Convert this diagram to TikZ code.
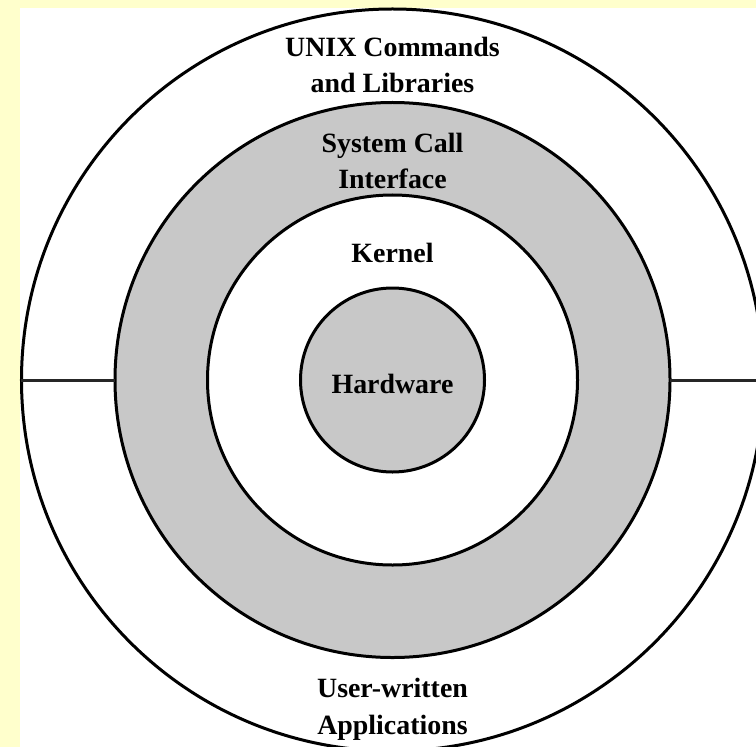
\documentclass[tikz,border=0pt]{standalone}
\usepackage{fontspec}
\setmainfont{Liberation Serif}
\definecolor{bgyellow}{HTML}{FFFFCC}
\definecolor{ringgray}{HTML}{C8C8C8}
\begin{document}
\begin{tikzpicture}[x=1bp,y=-1bp,
  ring/.style={circle,draw=black,line width=3bp,inner sep=0pt,outer sep=0pt},
  sep/.style={draw=black!85,line width=3bp},
  lbl/.style={font=\fontsize{28}{37}\selectfont\bfseries,align=center,inner sep=0pt}]
\useasboundingbox (0,0) rectangle (756,747);
\fill[bgyellow] (0,0) rectangle (756,747);
\fill[white] (20,8) rectangle (756,747);
\clip (0,0) rectangle (756,747);
\node[ring,fill=white,minimum size=742bp] (outer) at (392.5,380) {};
\node[ring,fill=ringgray,minimum size=555bp] (sci) at (392.5,380) {};
\node[ring,fill=white,minimum size=370bp] (kern) at (392.5,380) {};
\node[ring,fill=ringgray,minimum size=184bp] (hw) at (392.5,380) {};
\coordinate (rightend) at (760,380);
\draw[sep] (outer.west) -- (sci.west);
\draw[sep] (sci.east) -- (rightend);
\node[lbl] (unixlbl) at (392.5,65) {UNIX Commands\\and Libraries};
\node[lbl] (scilbl) at (392.5,161) {System Call\\Interface};
\node[lbl] (kernlbl) at (392.5,253) {Kernel};
\node[lbl] (hwlbl) at (392.5,384) {Hardware};
\node[lbl] (userlbl) at (392.5,709) {User-written\\Applications};
\end{tikzpicture}
\end{document}
